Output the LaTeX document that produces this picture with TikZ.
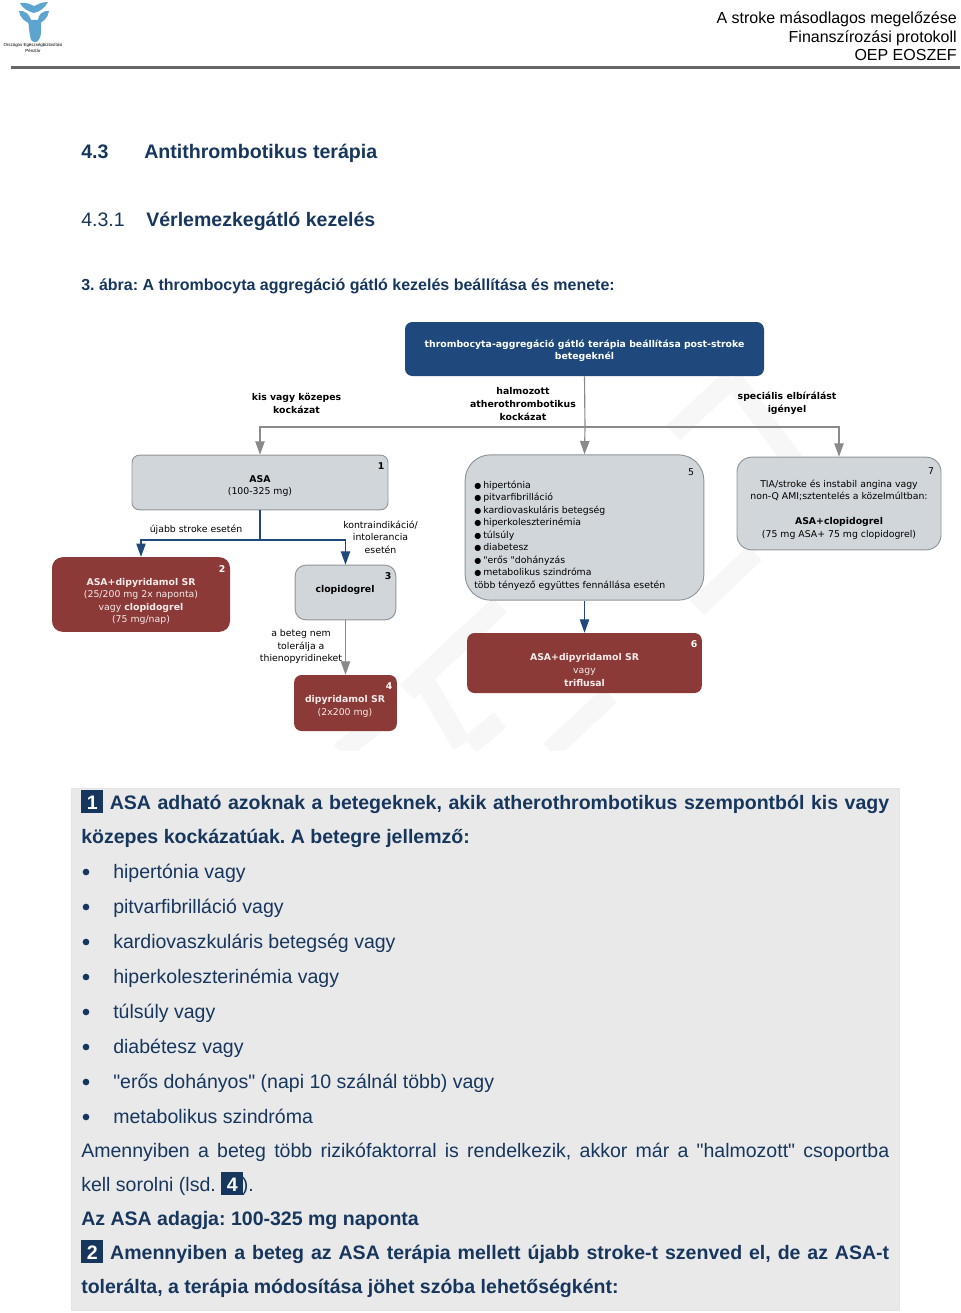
\documentclass[tikz,border=0pt]{standalone}
\usepackage{fontspec}
\setmainfont{Liberation Sans}
\newfontfamily\chartfont{DejaVu Sans}
\usetikzlibrary{arrows.meta}
\frenchspacing
\definecolor{navytext}{HTML}{17365D}
\definecolor{chartblue}{HTML}{1F497D}
\definecolor{chartred}{HTML}{8C3A38}
\definecolor{chartgrey}{HTML}{D1D6DB}
\definecolor{rimgrey}{HTML}{8F9499}
\definecolor{arrowgrey}{HTML}{8A8A8A}
\definecolor{panelgrey}{HTML}{E9E9E9}
\definecolor{logoblue}{HTML}{5DA5D0}
\definecolor{markgrey}{HTML}{F7F7F7}
\newcommand{\numbox}[1]{{\setlength{\fboxsep}{0pt}\colorbox{navytext}{\rule[-3pt]{0pt}{17pt}\makebox[16.5pt]{\color{white}\bfseries #1}}}}
\newcommand{\fitline}[1]{\makebox[606pt][s]{#1}}
\newcommand{\riskdot}{\makebox[6.75pt][l]{\fontsize{6}{9.4}\selectfont ●}}
\tikzset{
    chartbox/.style={minimum width=#1, inner sep=0pt, rounded corners=5.5pt},
    greybox/.style={chartbox=#1, fill=chartgrey, draw=rimgrey, line width=0.7pt},
    redbox/.style={chartbox=#1, fill=chartred},
    bluebox/.style={chartbox=#1, fill=chartblue},
    chartlabel/.style={font=\chartfont\fontsize{7}{9.4}\selectfont, align=center, inner sep=0pt},
    redlabel/.style={chartlabel, text=white!90!chartred},
    bluearrow/.style={draw=chartblue, line width=0.85pt, -{Triangle[length=10pt,width=7pt]}},
    greyarrow/.style={draw=arrowgrey, line width=0.85pt, -{Triangle[length=10pt,width=7pt]}},
    bluewire/.style={draw=chartblue, line width=0.85pt},
    greywire/.style={draw=arrowgrey, line width=0.85pt},
    bodyline/.style={anchor=base west, inner sep=0pt, text=navytext, font=\fontsize{14.65}{18}\selectfont},
    headline/.style={anchor=base west, inner sep=0pt, text=navytext, font=\bfseries\fontsize{14.65}{18}\selectfont},
    topline/.style={anchor=base east, inner sep=0pt, font=\fontsize{12}{14}\selectfont},
    dotmark/.style={circle, fill=navytext, inner sep=0pt, minimum size=5pt},
}
\begin{document}
\begin{tikzpicture}[x=0.75pt, y=-0.75pt]
    \useasboundingbox (0,0) rectangle (960,1313);

    % Faint watermark behind the chart
    \begin{scope}
        \clip (330,376) rectangle (960,750);
        \foreach \xa/\ya/\xb/\yb in {407/692/470/632, 423/678/462/745, 340/752/375/725, 450/652/500/605,
            550/751/610/695, 697/608/755/553, 673/433/732/378, 732/378/800/470, 470/745/500/720}
            \draw[markgrey, line width=15pt] (\xa,\ya) -- (\xb,\yb);
    \end{scope}

    % Logo
    \fill[logoblue] (20,3) .. controls (28,2) and (31,5) .. (34,6) .. controls (37,5) and (41,2) .. (48,2)
        .. controls (45,8) and (39,12) .. (34,13) .. controls (29,12) and (22,8) .. cycle;
    \fill[logoblue] (19,11) .. controls (25,10) and (30,15) .. (31,20) -- (31,24) .. controls (25,22) and (20,18) .. cycle;
    \fill[logoblue] (49,11) .. controls (43,10) and (38,15) .. (38,20) -- (38,24) .. controls (43,22) and (48,18) .. cycle;
    \fill[logoblue] (28,20) -- (41,20) .. controls (41,28) and (42,37) .. (38,41) .. controls (35,43) and (32,42) .. (31,40)
        .. controls (29,33) and (29,26) .. cycle;
    \node[inner sep=0pt, align=center, font=\fontsize{3.3}{4.6}\selectfont] (logotext) at (33,48)
        {Országos Egészségbiztosítási\\Pénztár};

    % Page header
    \node[topline] (head1) at (957,23.5) {A stroke másodlagos megelőzése};
    \node[topline] (head2) at (957,42.5) {Finanszírozási protokoll};
    \node[topline] (head3) at (957,61) {OEP EOSZEF};
    \fill[black!60] (11,66) rectangle (960,69);

    % Headings
    \node[headline, font=\bfseries\fontsize{14.7}{18}\selectfont] (sec) at (81,158) {4.3};
    \node[headline, font=\bfseries\fontsize{14.7}{18}\selectfont] (sectitle) at (144,158) {Antithrombotikus terápia};
    \node[bodyline] (subsec) at (81,226) {4.3.1};
    \node[headline] (subtitle) at (146,226) {Vérlemezkegátló kezelés};
    \node[headline, font=\bfseries\fontsize{12}{14}\selectfont] (caption) at (81,290) {3. ábra: A thrombocyta aggregáció gátló kezelés beállítása és menete:};

    % Chart boxes
    \node[bluebox=269.25pt, minimum height=40.5pt] (root) at (584.5,349) {};
    \node[greybox=192pt, minimum height=41pt] (asa) at (260,482.5) {};
    \node[redbox=133.5pt, minimum height=56pt, rounded corners=8pt] (combo) at (141,594.5) {};
    \node[greybox=75.5pt, minimum height=41pt, rounded corners=8pt] (clopi) at (345.5,592.5) {};
    \node[redbox=77pt, minimum height=42pt] (dipy) at (345.5,703) {};
    \node[greybox=179pt, minimum height=109pt, rounded corners=19pt] (risk) at (584.5,527.5) {};
    \node[redbox=176pt, minimum height=45pt] (triple) at (584.5,663) {};
    \node[greybox=153pt, minimum height=69.5pt, rounded corners=11pt] (special) at (839,503.5) {};

    % Connectors
    \coordinate (split) at (585,427);
    \coordinate (asafork) at (260,540);
    \draw[greywire] (root.south) -- (split);
    \draw[greyarrow] (split) -- (risk.north);
    \draw[greyarrow] (split) -| (asa.north);
    \draw[greyarrow] (split) -| (special.north);
    \draw[bluewire] (asa.south) -- (asafork);
    \draw[bluearrow] (asafork) -| (combo.north);
    \draw[bluearrow] (asafork) -| (clopi.north);
    \draw[greyarrow] (clopi.south) -- (dipy.north);
    \draw[bluearrow] (risk.south) -- (triple.north);

    % Chart texts
    \node[chartlabel, text=white, font=\chartfont\bfseries\fontsize{7}{9.4}\selectfont] (roottext) at (584.5,351)
        {thrombocyta-aggregáció gátló terápia beállítása post-stroke\\betegeknél};
    \node[chartlabel, font=\chartfont\bfseries\fontsize{7}{9.4}\selectfont] (lowrisk) at (296.5,403.5) {kis vagy közepes\\kockázat};
    \node[chartlabel, font=\chartfont\bfseries\fontsize{7}{9.4}\selectfont] (highrisk) at (523,404) {halmozott\\atherothrombotikus\\kockázat};
    \node[chartlabel, font=\chartfont\bfseries\fontsize{7}{9.4}\selectfont] (specrisk) at (787,403.5) {speciális elbírálást\\igényel};
    \node[chartlabel] (asatext) at (260,486) {\textbf{ASA}\\(100-325 mg)};
    \node[chartlabel] (newstroke) at (196,530) {újabb stroke esetén};
    \node[chartlabel] (contra) at (380.5,537) {kontraindikáció/\\intolerancia\\esetén};
    \node[redlabel] (combotext) at (141,601.5) {\textbf{ASA+dipyridamol SR}\\(25/200 mg 2x naponta)\\vagy \textbf{clopidogrel}\\(75 mg/nap)};
    \node[chartlabel] (clopitext) at (345,590) {\textbf{clopidogrel}};
    \node[chartlabel] (intoler) at (301,646.5) {a beteg nem\\tolerálja a\\thienopyridineket};
    \node[redlabel] (dipytext) at (345,706.5) {\textbf{dipyridamol SR}\\(2x200 mg)};
    \node[chartlabel, align=left] (risktext) at (474,535.5) [anchor=west]
        {\riskdot hipertónia\\\riskdot pitvarfibrilláció\\\riskdot kardiovaskuláris betegség\\\riskdot hiperkoleszterinémia\\\riskdot túlsúly\\\riskdot diabetesz\\\riskdot "erős "dohányzás\\\riskdot metabolikus szindróma\\több tényező együttes fennállása esetén};
    \node[redlabel] (tripletext) at (584.5,670) {\textbf{ASA+dipyridamol SR}\\vagy\\\textbf{triflusal}};
    \node[chartlabel] (specialtext) at (839,509.5) {TIA/stroke és instabil angina vagy\\non-Q AMI;sztentelés a közelmúltban:\\[9.4pt]\textbf{ASA+clopidogrel}\\(75 mg ASA+ 75 mg clopidogrel)};

    % Box numbers
    \node[chartlabel] (num1) at (381,466.5) {\textbf{1}};
    \node[redlabel, text=white] (num2) at (222,569.5) {\textbf{2}};
    \node[chartlabel] (num3) at (388,576.5) {\textbf{3}};
    \node[redlabel, text=white] (num4) at (389,686.5) {\textbf{4}};
    \node[chartlabel] (num5) at (691,472.5) {5};
    \node[redlabel, text=white] (num6) at (694,644.5) {\textbf{6}};
    \node[chartlabel] (num7) at (931,471.5) {7};

    % Notes panel
    \fill[panelgrey, draw=black!10, line width=0.75pt] (71,788) rectangle (899,1310);
    \node[headline] (note1a) at (81,809) {\fitline{\numbox{1} ASA adható azoknak a betegeknek, akik atherothrombotikus szempontból kis vagy}};
    \node[headline] (note1b) at (81,843) {közepes kockázatúak. A betegre jellemző:};
    \foreach \ypos/\item [count=\n] in {878/hipertónia vagy, 913/pitvarfibrilláció vagy, 948/kardiovaszkuláris betegség vagy,
        983/hiperkoleszterinémia vagy, 1018/túlsúly vagy, 1053/diabétesz vagy, 1088/\textquotedbl erős dohányos\textquotedbl{} (napi 10 szálnál több) vagy, 1123/metabolikus szindróma} {
        \node[dotmark] (dot\n) at (86,\ypos-6) {};
        \node[bodyline] (item\n) at (113,\ypos) {\item};
    }
    \node[bodyline] (note2a) at (81,1157) {\fitline{Amennyiben a beteg több rizikófaktorral is rendelkezik, akkor már a \textquotedbl halmozott\textquotedbl{} csoportba}};
    \node[bodyline] (note2b) at (81,1191) {kell sorolni (lsd. \numbox{\textbf{4}}\hspace{-1pt}).};
    \node[headline] (note3) at (81,1225) {Az ASA adagja: 100-325 mg naponta};
    \node[headline] (note4a) at (81,1259) {\fitline{\numbox{2} Amennyiben a beteg az ASA terápia mellett újabb stroke-t szenved el, de az ASA-t}};
    \node[headline] (note4b) at (81,1293) {tolerálta, a terápia módosítása jöhet szóba lehetőségként:};
\end{tikzpicture}
\end{document}
